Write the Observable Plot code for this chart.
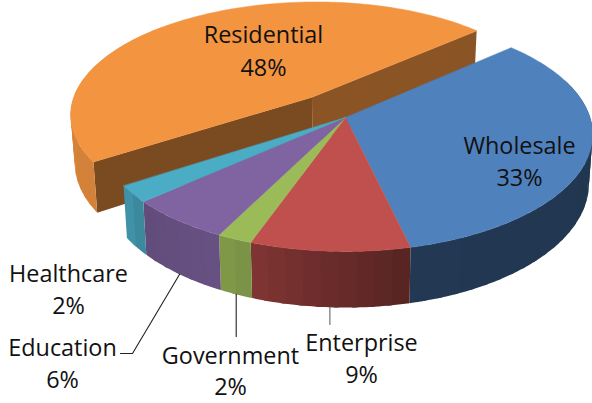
<!DOCTYPE html>
<html>
<head>
<meta charset="utf-8">
<script src="https://cdn.jsdelivr.net/npm/d3@7"></script>
<script src="https://cdn.jsdelivr.net/npm/@observablehq/plot@0.6"></script>
<style>
html,body{margin:0;padding:0;background:#fff}
svg{display:block}
</style>
</head>
<body>
<div id="chart"></div>
<script>
// Data (slice sizes estimated to a tenth, labels show them rounded)
const categories = ["Wholesale", "Enterprise", "Government", "Education", "Healthcare", "Residential"];
const shares = [33, 9.1, 2, 6, 2.3, 47.6];
const colors = ["#4f81bd", "#c0504d", "#9bbb59", "#8064a2", "#4bacc6", "#f39441"];

// Layout of the labels (centre x, first baseline, second baseline)
const labelX = [519, 361, 230, 62, 68, 263];
const labelY1 = [153, 350, 363, 355, 281, 42];
const labelY2 = [185, 382, 394, 387, 313, 75];

// Projection of the tilted disc
const view = {cx: 345, cy: 117, A: 244.5, B: 114.5, k: -0.145, depth: 48, taper: 0.985, start: -42, explode: 0.23};
function project(deg, r, offset, bottom) {
  const a = deg * Math.PI / 180;
  const u = r * Math.cos(a) + offset[0];
  const v = r * Math.sin(a) + offset[1];
  const w = 1 + view.k * v;
  let x = view.A * u / w, y = view.B * v / w;
  if (bottom) { x *= view.taper; y += view.depth / w; }
  return {x: view.cx + x, y: view.cy + y};
}

// Slices from the shares
let acc = view.start;
const slices = categories.map((name, i) => {
  const a0 = acc; acc += shares[i] * 3.6;
  let offset = [0, 0];
  if (name === "Residential") {
    const m = (a0 + acc) / 2 * Math.PI / 180;
    offset = [view.explode * Math.cos(m), view.explode * Math.sin(m)];
  }
  return {name, share: shares[i], color: colors[i], a0, a1: acc, offset};
});

// Wall shading by angle
const shade = d3.scaleLinear([-20, 76, 109, 112, 138, 146, 215], [0.41, 0.44, 0.66, 0.82, 0.76, 0.87, 0.9]).clamp(true);
function scaled(c, f) {
  const q = d3.rgb(c);
  return d3.rgb(q.r * f, q.g * f, q.b * f).formatHex();
}

const wallRows = [];
const topRows = [];
let nid = 0;
function poly(rows, points, fill) {
  const id = nid++;
  for (const p of points) rows.push({id, x: p.x, y: p.y, fill});
}
function arc(a0, a1, offset, bottom) {
  const n = Math.max(2, Math.ceil(Math.abs(a1 - a0)));
  return d3.range(n + 1).map(i => project(a0 + (a1 - a0) * i / n, 1, offset, bottom));
}
// Each strip overlaps the next one inside a slice, so no seams show
function wall(rows, s, a0, a1) {
  const n = Math.max(1, Math.round((a1 - a0) / 3.6));
  for (let i = 0; i < n; i++) {
    const t0 = a0 + (a1 - a0) * i / n;
    const t1 = a0 + (a1 - a0) * (i + 1) / n;
    const end = i < n - 1 ? t1 + 1 : t1;
    poly(rows, [...arc(t0, end, s.offset, false), ...arc(end, t0, s.offset, true)], scaled(s.color, shade((t0 + t1) / 2)));
  }
}
function topFace(rows, s) {
  poly(rows, [project(0, 0, s.offset, false), ...arc(s.a0, s.a1, s.offset, false)], s.color);
}
function cutFace(rows, s, a, f) {
  const o = s.offset;
  poly(rows, [project(0, 0, o, false), project(a, 1, o, false), project(a, 1, o, true), project(0, 0, o, true)], scaled(s.color, f));
}

// Exploded slice behind, then the rest
const res = slices[5];
const resRows = [];
cutFace(resRows, res, res.a1, 0.57);
cutFace(resRows, res, res.a0, 0.5);
wall(resRows, res, res.a0, 225);
const resTop = [];
topFace(resTop, res);
for (const s of slices.slice(0, 5)) wall(wallRows, s, Math.max(s.a0, -20), s.a1);
for (const s of slices.slice(0, 5)) topFace(topRows, s);

// Labels
const labels = slices.flatMap((s, i) => [
  {x: labelX[i], y: labelY1[i], text: s.name},
  {x: labelX[i], y: labelY2[i], text: Math.round(s.share) + "%"}
]);

// Leader lines start on the rim at the middle of the slice
function rimMid(s) { return project((s.a0 + s.a1) / 2, 1, s.offset, true); }
const edu = rimMid(slices[3]), gov = rimMid(slices[2]), ent = rimMid(slices[1]);
const leaders = [
  {id: "e", x: edu.x, y: edu.y, c: "#222"},
  {id: "e", x: labelX[3] + 70, y: labelY1[3] - 2, c: "#222"},
  {id: "e", x: labelX[3] + 58, y: labelY1[3] - 2, c: "#222"},
  {id: "g", x: gov.x, y: gov.y, c: "#222"},
  {id: "g", x: gov.x, y: labelY1[2] - 27, c: "#222"},
  {id: "n", x: ent.x, y: ent.y, c: "#666"},
  {id: "n", x: ent.x, y: labelY1[1] - 26, c: "#666"}
];

const surface = {x: "x", y: "y", z: "id", fill: "fill", curve: "linear-closed"};
const chart = Plot.plot({
  width: 592,
  height: 403,
  margin: 0,
  style: {background: "#fff"},
  x: {domain: [0, 592], range: [0, 592], axis: null},
  y: {domain: [0, 403], range: [0, 403], axis: null},
  color: {type: "identity"},
  marks: [
    Plot.line(resRows, {...surface, stroke: "none"}),
    Plot.line(resTop, {...surface, stroke: "fill", strokeWidth: 0.5}),
    Plot.line(wallRows, {...surface, stroke: "none"}),
    Plot.line(topRows, {...surface, stroke: "fill", strokeWidth: 0.5}),
    Plot.line(leaders, {x: "x", y: "y", z: "id", stroke: "c", strokeWidth: 1.1, fill: "none"}),
    Plot.text(labels, {
      x: "x", y: "y", text: "text", textAnchor: "middle", lineAnchor: "bottom",
      fontFamily: "Open Sans", fontSize: 23.4, fill: "#111"
    })
  ]
});
document.getElementById("chart").appendChild(chart);
</script>
</body>
</html>
